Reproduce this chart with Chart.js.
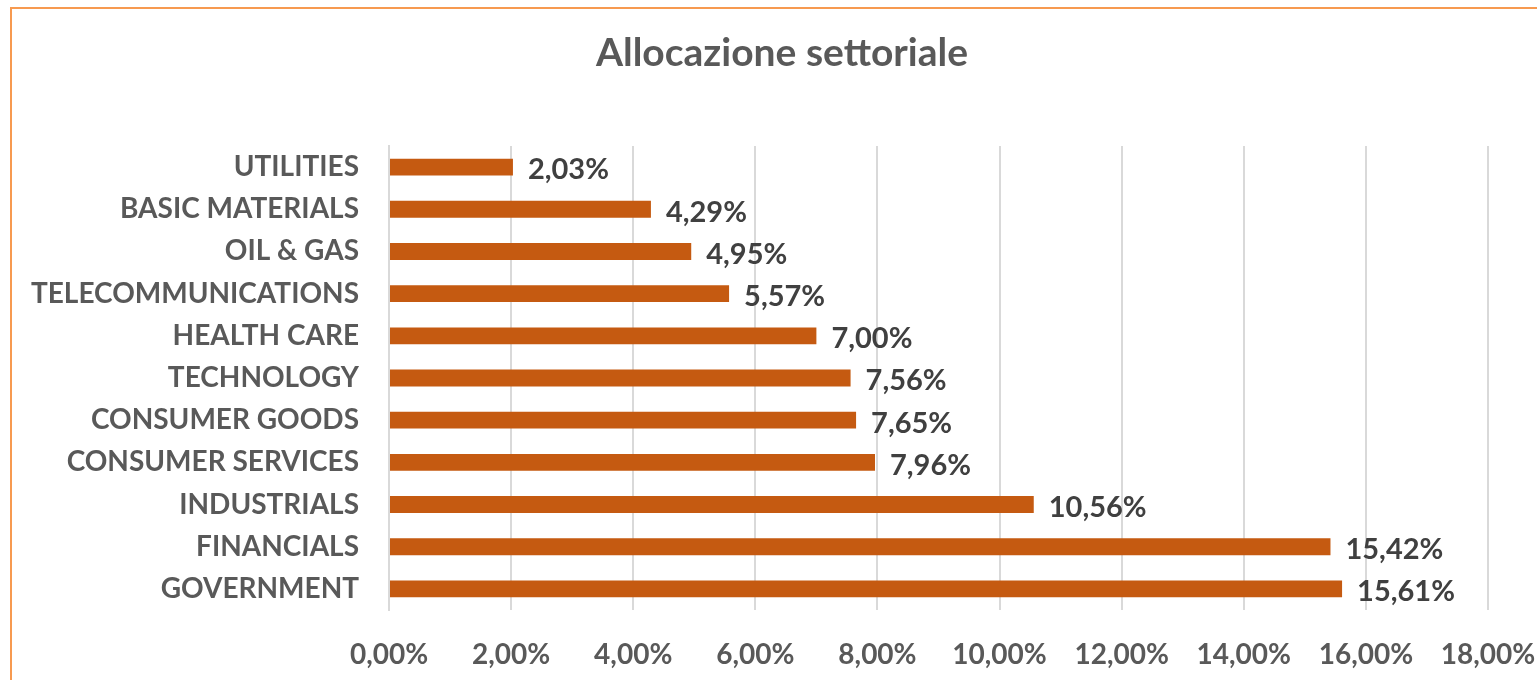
<!DOCTYPE html>
<html>
<head>
<meta charset="utf-8">
<script src="https://cdn.jsdelivr.net/npm/chart.js@4/dist/chart.umd.min.js"></script>
<style>
  html, body { margin: 0; padding: 0; background: #fff; overflow: hidden; }
  #wrap { position: relative; width: 1537px; height: 680px; }
  #frame { position: absolute; left: 10px; top: 7px; width: 1600px; height: 800px; border: 2px solid #F79A50; box-sizing: border-box; }
  canvas { position: absolute; left: 0; top: 0; }
</style>
</head>
<body>
<div id="wrap">
  <div id="frame"></div>
  <canvas id="c" width="1537" height="680"></canvas>
</div>
<script>
const categories = ["UTILITIES", "BASIC MATERIALS", "OIL & GAS", "TELECOMMUNICATIONS", "HEALTH CARE", "TECHNOLOGY", "CONSUMER GOODS", "CONSUMER SERVICES", "INDUSTRIALS", "FINANCIALS", "GOVERNMENT"];
const values = [2.03, 4.29, 4.95, 5.57, 7.00, 7.56, 7.65, 7.96, 10.56, 15.42, 15.61];
const titleText = "Allocazione settoriale";

const fmt = v => v.toFixed(2).replace('.', ',') + '%';
const FONT = 'Lato';

const valueLabels = {
  id: 'valueLabels',
  afterDatasetsDraw(chart) {
    const ctx = chart.ctx;
    const meta = chart.getDatasetMeta(0);
    ctx.save();
    ctx.font = 'bold 29px ' + FONT;
    ctx.fillStyle = '#404040';
    ctx.textAlign = 'left';
    ctx.textBaseline = 'middle';
    meta.data.forEach((bar, i) => {
      ctx.fillText(fmt(values[i]), bar.x + 15, bar.y + 3);
    });
    ctx.restore();
  }
};

const chartTitle = {
  id: 'chartTitle',
  afterDraw(chart) {
    const ctx = chart.ctx;
    ctx.save();
    ctx.font = 'bold 39px ' + FONT;
    ctx.fillStyle = '#595959';
    ctx.textAlign = 'center';
    ctx.textBaseline = 'middle';
    ctx.fillText(titleText, (chart.width + 27) / 2, 53);
    ctx.restore();
  }
};

new Chart(document.getElementById('c'), {
  type: 'bar',
  data: {
    labels: categories,
    datasets: [{
      data: values,
      backgroundColor: '#C55A11',
      borderWidth: 0,
      barPercentage: 0.8,
      categoryPercentage: 0.5
    }]
  },
  options: {
    indexAxis: 'y',
    responsive: false,
    animation: false,
    devicePixelRatio: 1,
    layout: { padding: { left: 0, right: 49, top: 146, bottom: 0 } },
    plugins: {
      legend: { display: false },
      tooltip: { enabled: false },
      title: { display: false }
    },
    scales: {
      x: {
        min: 0, max: 18,
        ticks: {
          stepSize: 2,
          color: '#595959',
          font: { family: FONT, size: 28, weight: 'bold' },
          padding: 28,
          callback: v => fmt(v)
        },
        grid: { color: '#D9D9D9', lineWidth: 2, drawTicks: false },
        border: { display: false },
        afterFit(s) { s.height = 70; s.paddingRight = 0; s.paddingLeft = 0; }
      },
      y: {
        ticks: {
          color: '#595959',
          font: { family: FONT, size: 28, weight: 'bold' },
          padding: 30
        },
        grid: { display: false, drawTicks: false },
        border: { display: true, color: '#D9D9D9', width: 2 },
        afterFit(s) { s.width = 389; }
      }
    }
  },
  plugins: [valueLabels, chartTitle]
});
</script>
</body>
</html>
